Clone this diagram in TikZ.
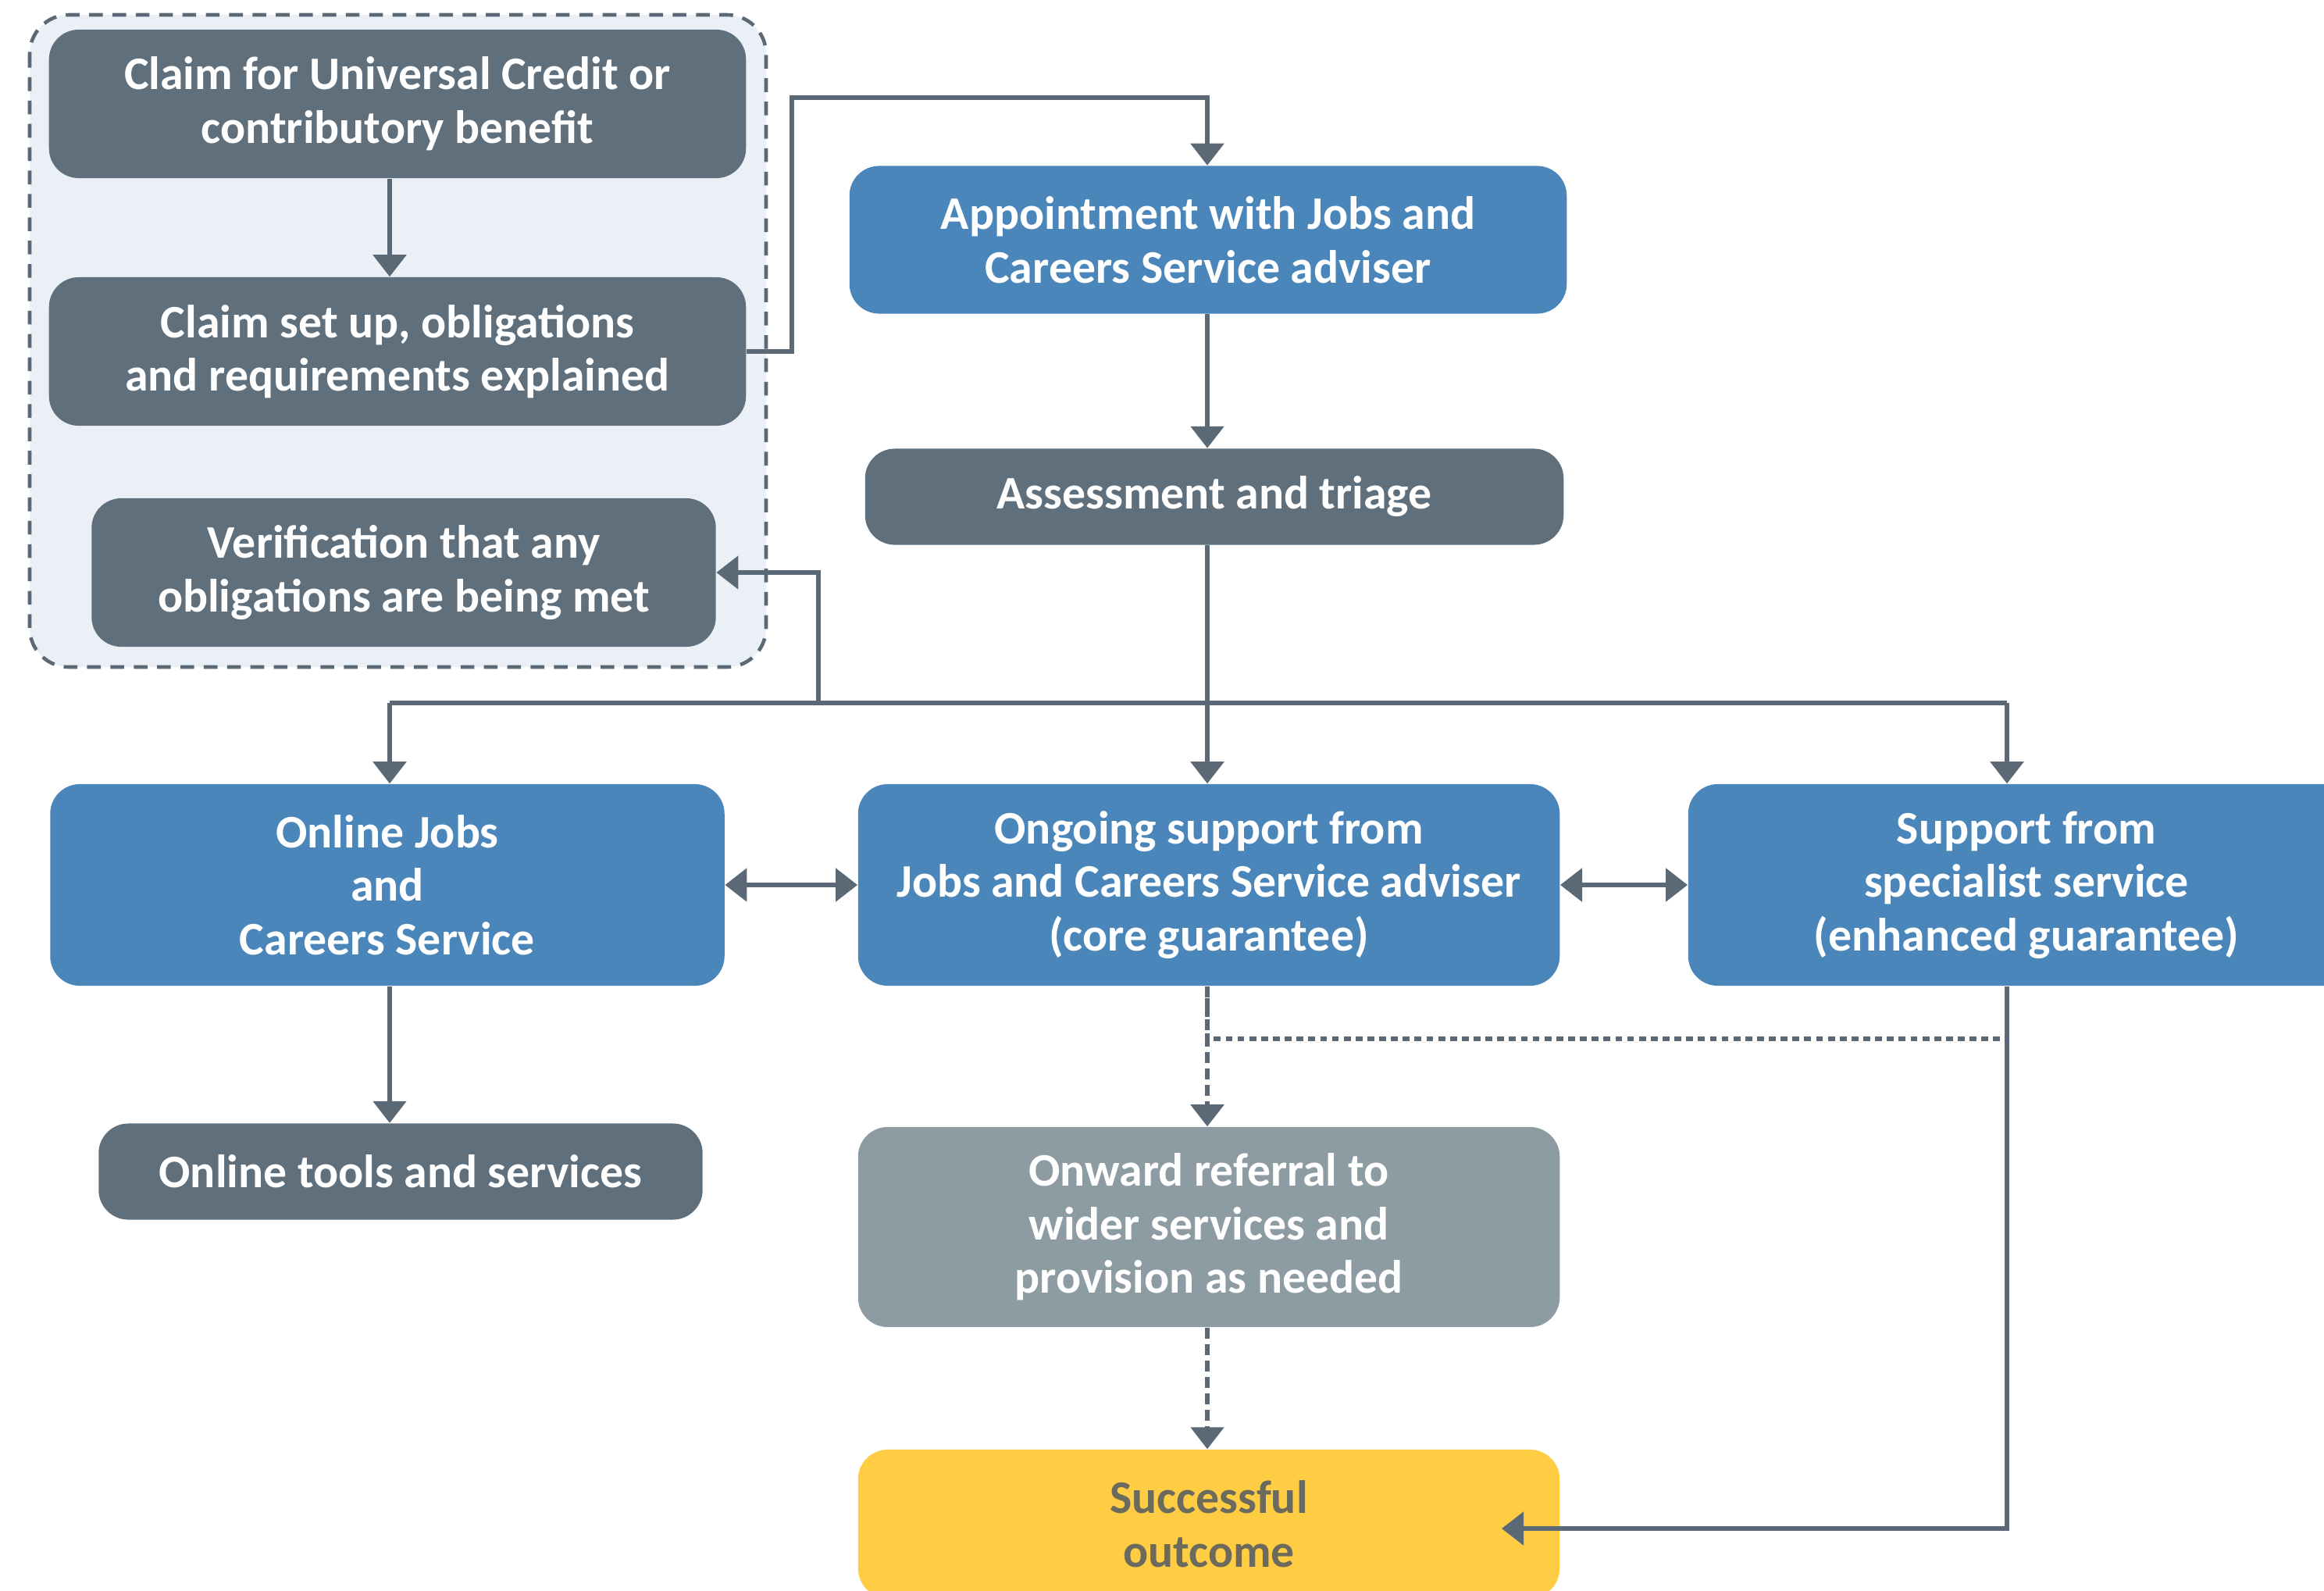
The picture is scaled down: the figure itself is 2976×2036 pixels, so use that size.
\documentclass[tikz,border=0pt]{standalone}
\usepackage{fontspec}
\setmainfont{Carlito}
\usetikzlibrary{arrows.meta}

\definecolor{slate}{HTML}{5F6F7C}
\definecolor{jcsblue}{HTML}{4A86BA}
\definecolor{mistgrey}{HTML}{8D9BA3}
\definecolor{gold}{HTML}{FECD44}
\definecolor{wire}{HTML}{5A6975}
\definecolor{groupfill}{HTML}{EAF0F6}
\definecolor{goldtext}{HTML}{6B6A5C}

\tikzset{
  box/.style={rounded corners=0.38cm, inner sep=0pt, align=center, text=white,
    font=\bfseries\fontsize{17pt}{19.5pt}\selectfont},
  darkbox/.style={box, fill=slate},
  bluebox/.style={box, fill=jcsblue},
  greybox/.style={box, fill=mistgrey},
  goldbox/.style={box, fill=gold, text=goldtext},
  wireline/.style={draw=wire, line width=1.6pt},
  link/.style={wireline, -{Triangle[width=0.42cm,length=0.28cm]}},
  twolink/.style={wireline, {Triangle[width=0.42cm,length=0.28cm]}-{Triangle[width=0.42cm,length=0.28cm]}},
  dotline/.style={wireline, dash pattern=on 2.5pt off 1.8pt},
  dotlink/.style={link, dash pattern=on 4pt off 2pt}
}

\begin{document}
\begin{tikzpicture}[x=0.01cm,y=-0.01cm]
   \useasboundingbox (0,0) rectangle (2976,2036);
   \clip (0,0) rectangle (2976,2036);
   \fill[white] (0,0) rectangle (2976,2036);

   \draw[wire, fill=groupfill, line width=1.3pt, dash pattern=on 5pt off 3.5pt,
         rounded corners=0.5cm] (38,19) rectangle (981,854);

   \node[darkbox, minimum width=8.92cm, minimum height=1.90cm] (claim) at (509,133)
        {Claim for Universal Credit or\\contributory benefit};
   \node[darkbox, minimum width=8.92cm, minimum height=1.90cm] (setup) at (509,450)
        {Claim set up, obligations\\and requirements explained};
   \node[darkbox, minimum width=7.99cm, minimum height=1.90cm] (verif) at (517,733)
        {Verification that any\\obligations are being met};

   \node[bluebox, minimum width=9.18cm, minimum height=1.89cm] (appt) at (1547,307)
        {Appointment with Jobs and\\Careers Service adviser};
   \node[darkbox, minimum width=8.94cm, minimum height=1.23cm] (assess) at (1555,636)
        {Assessment and triage};

   \node[bluebox, minimum width=8.63cm, minimum height=2.58cm] (online) at (496,1133)
        {Online Jobs\\and\\Careers Service};
   \node[bluebox, minimum width=8.98cm, minimum height=2.58cm] (ongoing) at (1548,1133)
        {Ongoing support from\\Jobs and Careers Service adviser\\(core guarantee)};
   \node[bluebox, minimum width=8.66cm, minimum height=2.58cm] (spec) at (2595,1133)
        {Support from\\specialist service\\(enhanced guarantee)};

   \node[darkbox, minimum width=7.73cm, minimum height=1.23cm] (tools) at (513,1500)
        {Online tools and services};
   \node[greybox, minimum width=8.98cm, minimum height=2.56cm] (onward) at (1548,1571)
        {Onward referral to\\wider services and\\provision as needed};
   \node[goldbox, minimum width=8.98cm, minimum height=1.90cm] (succ) at (1548,1951)
        {Successful\\outcome};

   \coordinate (spine) at (1546,0);
   \coordinate (busL) at (499,900);
   \coordinate (busR) at (2570,900);
   \coordinate (vbr) at (1048,900);
   \coordinate (hop) at (1014,125);
   \coordinate (sdrop) at (2570,1957);
   \coordinate (stip) at (1923,1957);
   \coordinate (dotR) at (2570,1330);

   \draw[link] (claim.south -| busL) -- (setup.north -| busL);
   \draw[link] (setup.east) -| (hop) -| (appt.north -| spine);
   \draw[link] (appt.south -| spine) -- (assess.north -| spine);
   \draw[link] (assess.south -| spine) -- (ongoing.north -| spine);
   \draw[wireline] (busL) -- (busR);
   \draw[link] (busL) -- (online.north -| busL);
   \draw[link] (busR) -- (spec.north -| busR);
   \draw[link] (vbr) |- (verif.east);

   \draw[twolink] (online.east) -- (ongoing.west);
   \draw[twolink] (ongoing.east) -- (spec.west);
   \draw[link] (online.south -| busL) -- (tools.north -| busL);

   \draw[dotline] (ongoing.south -| spine) |- (dotR);
   \draw[dotlink] (ongoing.south -| spine) -- (onward.north -| spine);
   \draw[dotlink] (onward.south -| spine) -- (succ.north -| spine);
   \draw[link] (spec.south -| sdrop) -- (sdrop) -- (stip);
\end{tikzpicture}
\end{document}
